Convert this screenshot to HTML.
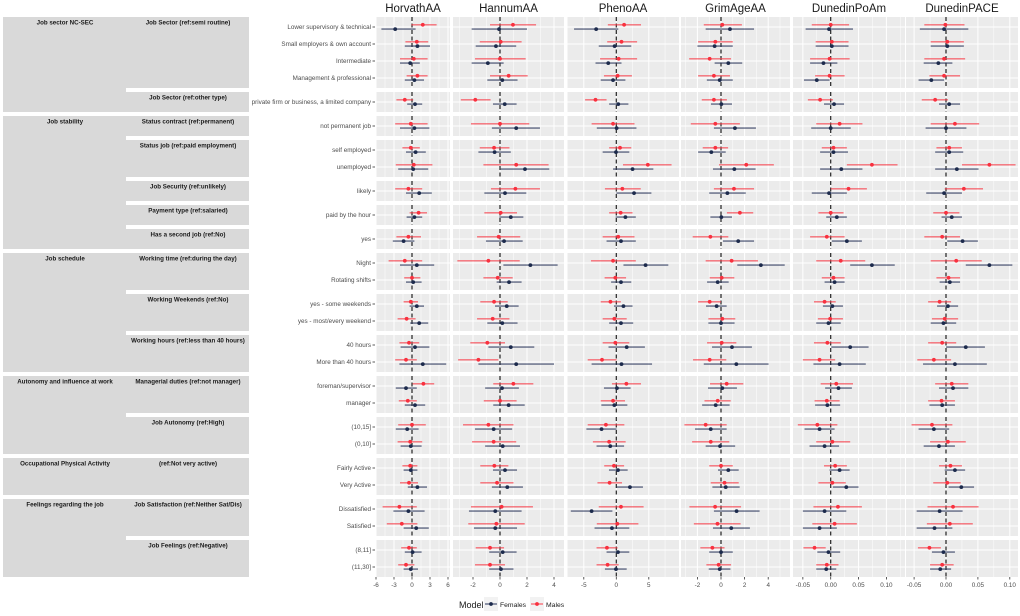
<!DOCTYPE html>
<html><head><meta charset="utf-8"><style>
html,body{margin:0;padding:0;background:#fff;}
svg{display:block;font-family:"Liberation Sans",Arial,sans-serif;}
</style></head><body>
<svg id="chart" width="1020" height="616" viewBox="0 0 1020 616"></svg>
<script>
const rowLabels=["Lower supervisory & technical","Small employers & own account","Intermediate","Management & professional","private firm or business, a limited company","not permanent job","self employed","unemployed","likely","paid by the hour","yes","Night","Rotating shifts","yes - some weekends","yes - most/every weekend","40 hours","More than 40 hours","foreman/supervisor","manager","(10,15]","(0,10]","Fairly Active","Very Active","Dissatisfied","Satisfied","(8,11]","(11,30]"];
const facetCounts=[4,1,1,2,1,1,1,2,2,2,2,2,2,2,2];
const facetLabels=["Job Sector (ref:semi routine)","Job Sector (ref:other type)","Status contract (ref:permanent)","Status job (ref:paid employment)","Job Security (ref:unlikely)","Payment type (ref:salaried)","Has a second job (ref:No)","Working time (ref:during the day)","Working Weekends (ref:No)","Working hours (ref:less than 40 hours)","Managerial duties (ref:not manager)","Job Autonomy (ref:High)","(ref:Not very active)","Job Satisfaction (ref:Neither Sat/Dis)","Job Feelings (ref:Negative)"];
const groupLabels=["Job sector NC-SEC","Job stability","Job schedule","Autonomy and influence at work","Occupational Physical Activity","Feelings regarding the job"];
const groupFacetSpan=[2,5,3,2,1,2];
const panelNames=["HorvathAA","HannumAA","PhenoAA","GrimAgeAA","DunedinPoAm","DunedinPACE"];
const tickVals=[[-6,-3,0,3,6],[-2,0,2,4],[-5,0,5],[-2,0,2,4],[-0.05,0,0.05,0.1],[-0.05,0,0.05,0.1]];
const tickText=[["-6","-3","0","3","6"],["-2","0","2","4"],["-5","0","5"],["-2","0","2","4"],["-0.05","0.00","0.05","0.10"],["-0.05","0.00","0.05","0.10"]];

const horvathMaleEst=[1.8,0.8,0.3,0.9,-1.2,-0.2,-0.2,0.3,-0.6,1.1,-0.6,-1.2,0,-0.2,-0.9,-0.5,-1,1.9,-0.7,0,-0.3,-0.3,-0.5,-2.1,-1.7,-0.5,-1];
const horvathMaleLo=[-0.1,-1.1,-2,-0.9,-2.6,-2.8,-1.6,-2.7,-2.8,-0.4,-2.6,-3.9,-1.3,-1.4,-2.4,-2.1,-2.8,0.1,-2.2,-2.3,-2.4,-1.6,-2,-4.9,-4.2,-1.8,-2.3];
const horvathMaleHi=[4.1,2.7,2.6,2.6,0.2,2.6,1.3,3.4,1.7,2.5,1.5,1.7,1.4,1,0.6,1.2,0.8,3.7,0.8,2.3,1.7,0.9,1,0.8,0.9,0.8,0.4];
const horvathFemEst=[-2.8,0.9,-0.3,0.4,0.5,0.4,0.6,0.2,1.2,0.4,-1.4,0.8,0.2,0.8,1.2,0.5,1.8,-1,0.5,-0.8,-0.2,-0.2,0.9,-0.6,0.7,0.1,-0.2];
const horvathFemLo=[-5.1,-1.2,-2,-1.2,-0.8,-2,-1,-2.3,-1,-0.9,-3.2,-2,-1,-0.4,-0.3,-1.9,-2.1,-2.7,-1.2,-2.7,-1.9,-1.4,-0.7,-3.1,-1.4,-1.2,-1.4];
const horvathFemHi=[0.6,3,1.3,2,1.7,2.9,2.3,2.7,3.3,1.7,0.4,3.7,1.6,2,2.7,2.9,5.7,0.8,2.2,1.1,1.6,0.9,2.5,2.1,2.8,1.6,1];

const hannumMaleEst=[0.96,0.05,0,0.64,-1.83,0,-0.44,1.2,1.14,0.05,-0.1,-0.86,-0.17,-0.44,-0.54,-0.94,-1.6,0.99,0,-0.86,-0.47,-0.42,-0.22,0.12,-0.27,-0.74,-0.74];
const hannumMaleLo=[-0.74,-1.5,-1.85,-0.74,-2.9,-2.15,-1.5,-1.23,-0.67,-1.16,-1.7,-3.16,-1.23,-1.46,-1.7,-2.2,-3.1,-0.5,-1.2,-2.74,-2.07,-1.46,-1.46,-2.15,-2.35,-1.8,-1.85];
const hannumMaleHi=[2.67,1.6,1.9,2.05,-0.7,2.17,0.7,3.6,2.96,1.26,1.5,1.46,0.94,0.57,0.7,0.37,-0.12,2.47,1.23,1.0,1.2,0.62,1.0,2.44,1.83,0.3,0.37];
const hannumFemEst=[-0.07,-0.3,-0.9,0.17,0.35,1.2,-0.4,1.85,0.37,0.8,0.3,2.25,0.67,0.5,0.17,0.8,1.2,0.15,0.64,-0.47,0.2,0.37,0.54,-0.35,-0.35,0.2,0.07];
const hannumFemLo=[-2.1,-1.8,-2.1,-0.94,-0.52,-0.6,-1.6,0.05,-1.16,-0.05,-1.04,0.25,-0.25,-0.37,-0.94,-0.86,-1.6,-1.1,-0.5,-1.85,-1.1,-0.52,-0.6,-2.3,-1.93,-0.8,-0.8];
const hannumFemHi=[2.0,1.2,0.27,1.3,1.23,2.96,0.8,3.65,1.95,1.73,1.68,4.27,1.6,1.38,1.3,2.54,4,1.4,1.83,0.9,1.48,1.26,1.7,1.6,1.26,1.23,1.0];

const phenoMaleEst=[1.2,0.8,0.36,0.2,-3.2,-0.5,0.57,4.85,0.93,0.67,0.3,-0.5,-0.15,-0.9,-0.3,-0.15,-2.2,1.55,-0.5,-1.6,-1.1,-0.36,-1.03,0.72,0.15,-1.44,-1.34];
const phenoMaleLo=[-1.3,-1.4,-2.5,-1.9,-4.8,-3.8,-1.1,1.03,-1.75,-1.1,-2.1,-3.9,-1.8,-2.4,-2.1,-2.1,-4.4,-0.67,-2.4,-4.4,-3.6,-1.86,-2.9,-2.7,-3,-3.04,-3.04];
const phenoMaleHi=[3.8,3.2,3.2,2.4,-1.5,2.8,2.3,8.5,3.76,2.5,2.8,3,1.5,0.7,1.6,2.0,0.05,3.8,1.34,1.24,1.44,1.2,0.88,4.2,3.4,0.2,0.36];
const phenoFemEst=[-3.1,-0.26,-1.24,-0.5,0.3,0.05,-0.05,2.5,2.73,1.4,0.72,4.5,0.72,1.1,0.72,1.6,0.8,0.1,-0.3,-2.27,-0.93,0.26,2.1,-3.8,-0.67,0.26,-0.05];
const phenoFemLo=[-6.5,-2.7,-3.2,-2.4,-1.1,-3,-2.1,-0.5,0,-0.1,-1.5,1.1,-0.8,-0.36,-1.1,-1.2,-3.8,-1.9,-2.3,-4.6,-3.04,-1.13,0.05,-7,-3.35,-1.5,-1.75];
const phenoFemHi=[0.3,2.3,0.8,1.4,1.86,3.1,2,5.7,5.4,3,3,8,2.3,2.5,2.6,4.4,5.5,2.2,1.7,0.05,1.2,1.75,4.1,-0.6,2,2,1.6];

const grimMaleEst=[0.11,-0.48,-0.96,-0.6,-0.6,-0.48,-0.48,2.14,1.1,1.6,-0.9,0.9,0.06,-0.96,0.11,0.06,-0.96,0.48,-0.28,-1.3,-0.87,0,0.3,-0.5,-0.3,-0.73,-0.2];
const grimMaleLo=[-1.46,-1.94,-2.7,-1.94,-1.63,-2.56,-1.55,-0.17,-0.6,0.5,-2.4,-1.3,-0.96,-1.94,-1.07,-1.18,-2.37,-0.93,-1.4,-3.1,-2.45,-1,-0.87,-2.68,-2.3,-1.75,-1.24];
const grimMaleHi=[1.77,1.0,0.85,0.76,0.5,1.6,0.6,4.48,2.8,2.73,0.62,3.13,1.13,0,1.21,1.3,0.45,1.89,0.82,0.48,0.7,1,1.5,1.7,1.66,0.3,0.85];
const grimFemEst=[0.76,-0.54,0.62,-0.11,0.03,1.18,-0.82,1.13,0.54,0.03,1.46,3.38,-0.28,-0.37,0,0.93,1.3,0.11,-0.45,-0.87,-0.08,0.62,0.4,1.32,0.87,0,-0.11];
const grimFemLo=[-1.3,-2,-0.54,-1.2,-0.85,-0.6,-1.94,-0.68,-1.0,-0.9,0.17,1.38,-1.18,-1.27,-1.07,-0.76,-1.46,-1.1,-1.6,-2.2,-1.3,-0.25,-0.73,-0.6,-0.68,-1,-1.04];
const grimFemHi=[2.8,1.0,1.8,1.0,0.93,2.96,0.4,2.93,2.1,0.93,2.8,5.4,0.65,0.48,1.15,2.62,4.03,1.35,0.73,0.48,1.2,1.5,1.58,3.27,2.45,1,0.8];

const poamMaleEst=[0,0.002,-0.002,-0.002,-0.019,0.016,0.005,0.074,0.032,0,-0.007,0.018,0.005,-0.011,-0.001,-0.006,-0.02,0.01,-0.007,-0.024,0.003,0.008,0.003,0.013,0.007,-0.029,-0.007];
const poamMaleLo=[-0.034,-0.027,-0.037,-0.028,-0.041,-0.026,-0.016,0.029,0,-0.022,-0.037,-0.026,-0.016,-0.03,-0.023,-0.03,-0.05,-0.018,-0.029,-0.059,-0.026,-0.012,-0.022,-0.031,-0.033,-0.049,-0.026];
const poamMaleHi=[0.033,0.032,0.034,0.025,0.004,0.057,0.029,0.12,0.065,0.023,0.025,0.062,0.025,0.009,0.022,0.018,0.008,0.04,0.016,0.012,0.035,0.029,0.027,0.056,0.047,-0.009,0.014];
const poamFemEst=[-0.003,0.002,-0.013,-0.025,0.006,0,0.005,0.019,-0.003,0.011,0.029,0.074,0.007,0.003,-0.004,0.035,0.016,0.014,-0.006,-0.02,-0.011,0.016,0.028,-0.011,-0.02,-0.004,-0.008];
const poamFemLo=[-0.045,-0.027,-0.037,-0.048,-0.012,-0.035,-0.019,-0.019,-0.034,-0.008,0.002,0.035,-0.011,-0.014,-0.026,0.001,-0.031,-0.01,-0.028,-0.047,-0.038,-0.002,0.004,-0.05,-0.05,-0.024,-0.026];
const poamFemHi=[0.04,0.032,0.012,-0.002,0.024,0.036,0.031,0.057,0.029,0.029,0.056,0.115,0.025,0.022,0.018,0.068,0.063,0.038,0.017,0.007,0.015,0.034,0.05,0.028,0.011,0.017,0.01];

const paceMaleEst=[-0.001,0.002,-0.003,-0.003,-0.017,0.014,0.005,0.068,0.028,0,-0.006,0.016,0.004,-0.01,-0.002,-0.006,-0.019,0.009,-0.007,-0.022,0.003,0.007,0.002,0.011,0.006,-0.026,-0.006];
const paceMaleLo=[-0.034,-0.024,-0.034,-0.026,-0.038,-0.024,-0.015,0.025,-0.002,-0.02,-0.034,-0.024,-0.015,-0.028,-0.022,-0.028,-0.045,-0.017,-0.028,-0.054,-0.025,-0.011,-0.02,-0.029,-0.03,-0.044,-0.025];
const paceMaleHi=[0.029,0.028,0.03,0.022,0.003,0.052,0.025,0.109,0.058,0.021,0.022,0.056,0.022,0.008,0.019,0.016,0.008,0.035,0.014,0.01,0.031,0.025,0.023,0.051,0.042,-0.008,0.012];
const paceFemEst=[-0.003,0.002,-0.012,-0.023,0.005,0,0.005,0.017,-0.003,0.009,0.026,0.068,0.006,0.003,-0.004,0.031,0.014,0.011,-0.006,-0.019,-0.011,0.014,0.024,-0.01,-0.018,-0.004,-0.009];
const paceFemLo=[-0.041,-0.024,-0.035,-0.043,-0.011,-0.032,-0.017,-0.017,-0.031,-0.007,0.002,0.031,-0.01,-0.014,-0.024,0,-0.036,-0.011,-0.026,-0.043,-0.035,-0.002,0.004,-0.046,-0.046,-0.022,-0.025];
const paceFemHi=[0.035,0.028,0.01,-0.003,0.022,0.032,0.027,0.051,0.025,0.025,0.05,0.104,0.022,0.019,0.016,0.061,0.064,0.035,0.014,0.005,0.014,0.03,0.044,0.026,0.01,0.014,0.008];

const NS="http://www.w3.org/2000/svg";
const svg=document.getElementById('chart');
function mk(tag,attrs,parent){const e=document.createElementNS(NS,tag);for(const k in attrs)e.setAttribute(k,attrs[k]);(parent||svg).appendChild(e);return e;}

const panelGeom=[[376,450,412,6],[453,564,500,13.5],[567,679,616.3,6.5],[681,790,721,11.8],[793,905,830.7,557],[906,1018,946,638]];
const series=[
 [horvathMaleEst,horvathMaleLo,horvathMaleHi,horvathFemEst,horvathFemLo,horvathFemHi],
 [hannumMaleEst,hannumMaleLo,hannumMaleHi,hannumFemEst,hannumFemLo,hannumFemHi],
 [phenoMaleEst,phenoMaleLo,phenoMaleHi,phenoFemEst,phenoFemLo,phenoFemHi],
 [grimMaleEst,grimMaleLo,grimMaleHi,grimFemEst,grimFemLo,grimFemHi],
 [poamMaleEst,poamMaleLo,poamMaleHi,poamFemEst,poamFemLo,poamFemHi],
 [paceMaleEst,paceMaleLo,paceMaleHi,paceFemEst,paceFemLo,paceFemHi]];
function xScale(p,v){const g=panelGeom[p];return g[2]+v*g[3];}

const facetTop=[],facetH=[],rowY=[];
let y=17;
facetCounts.forEach((n,i)=>{facetTop.push(y);facetH.push(3+17*n);for(let k=0;k<n;k++)rowY.push(y+10+17*k);y+=3+17*n+4;});
const plotBottom=facetTop[facetTop.length-1]+facetH[facetH.length-1];

let fi=0;
groupLabels.forEach((g,gi)=>{
  const f0=fi,f1=fi+groupFacetSpan[gi]-1;
  const top=facetTop[f0],bot=facetTop[f1]+facetH[f1];
  const r=mk('rect',{x:3,y:top,width:246,height:bot-top,fill:'#d9d9d9'});
  
  
  const t=mk('text',{x:65,y:top+7.5,'text-anchor':'middle','font-size':'6.2','font-weight':'bold',fill:'#1a1a1a'});
  t.textContent=g;
  
  
  for(let f=f0;f<=f1;f++){
    if(f>f0){const w=mk('rect',{x:126,y:facetTop[f]-4,width:124,height:4,fill:'#fff'});
      
      }
    const ft=mk('text',{x:188,y:facetTop[f]+7.5,'text-anchor':'middle','font-size':'6.2','font-weight':'bold',fill:'#1a1a1a'});
    ft.textContent=facetLabels[f];
    
    
  }
  fi=f1+1;
});

rowLabels.forEach((l,i)=>{
  const t=mk('text',{x:371,y:rowY[i]+2.2,'text-anchor':'end','font-size':'6.3',fill:'#4d4d4d'});
  t.textContent=l;
  
  
  const tk=mk('line',{x1:372.5,x2:375,y1:rowY[i],y2:rowY[i],stroke:'#333','stroke-width':0.8});
  
  
});

const RED='#f8313f',RED_L='rgba(248,60,70,0.72)',NAVY='#1c2a4c',NAVY_L='rgba(40,52,90,0.72)';
panelNames.forEach((name,p)=>{
  const g=panelGeom[p];
  const ttl=mk('text',{x:(g[0]+g[1])/2,y:12,'text-anchor':'middle','font-size':'11.5',fill:'#1a1a1a'});
  ttl.textContent=name;
  
  
  const tv=tickVals[p];
  const step=tv[1]-tv[0];
  facetCounts.forEach((n,f)=>{
    const bg=mk('rect',{x:g[0],y:facetTop[f],width:g[1]-g[0],height:facetH[f],fill:'#ebebeb'});
    
    
    for(let v=tv[0]-step*2;v<=tv[tv.length-1]+step*2+1e-9;v+=step/2){
      const x=xScale(p,v); if(x<g[0]||x>g[1])continue;
      const major=Math.abs(Math.round((v-tv[0])/step)*step-(v-tv[0]))<1e-9;
      mk('line',{x1:x,x2:x,y1:facetTop[f],y2:facetTop[f]+facetH[f],stroke:'#fff','stroke-width':major?1:0.5});
    }
  });
  rowY.forEach(ry=>mk('line',{x1:g[0],x2:g[1],y1:ry,y2:ry,stroke:'#fff','stroke-width':1}));
  facetCounts.forEach((n,f)=>{
    const z=mk('line',{x1:g[2],x2:g[2],y1:facetTop[f],y2:facetTop[f]+facetH[f],stroke:'#222','stroke-width':1.2,'stroke-dasharray':'4,2.5'});
    
    
  });
  const s=series[p];
  rowY.forEach((ry,i)=>{
    const clip=v=>Math.max(g[0],Math.min(g[1],v));
    const fl=mk('line',{x1:clip(xScale(p,s[4][i])),x2:clip(xScale(p,s[5][i])),y1:ry+2.1,y2:ry+2.1,stroke:NAVY_L,'stroke-width':1.4});
    
    
    const fp=mk('circle',{cx:xScale(p,s[3][i]),cy:ry+2.1,r:1.9,fill:NAVY});
    
    
    const ml=mk('line',{x1:clip(xScale(p,s[1][i])),x2:clip(xScale(p,s[2][i])),y1:ry-2.2,y2:ry-2.2,stroke:RED_L,'stroke-width':1.4});
    
    
    const mp=mk('circle',{cx:xScale(p,s[0][i]),cy:ry-2.2,r:1.9,fill:RED});
    
    
  });
  tv.forEach((v,k)=>{
    const x=xScale(p,v);
    const tk=mk('line',{x1:x,x2:x,y1:plotBottom,y2:plotBottom+2.5,stroke:'#333','stroke-width':0.8});
    
    
    const tl=mk('text',{x:x,y:plotBottom+10,'text-anchor':'middle','font-size':'6.3',fill:'#4d4d4d'});
    tl.textContent=tickText[p][k];
    
    
  });
});

const lt=mk('text',{x:459,y:608,'font-size':'9',fill:'#1a1a1a'});
lt.textContent='Model';


[['Females',NAVY,NAVY_L,484],['Males',RED,RED_L,530]].forEach(([lab,c,cl,x])=>{
  const k=mk('rect',{x:x,y:597,width:14,height:14,fill:'#f2f2f2'});
  
  
  mk('line',{x1:x+1,x2:x+13,y1:604,y2:604,stroke:cl,'stroke-width':1.4});
  mk('circle',{cx:x+7,cy:604,r:1.9,fill:c});
  const t=mk('text',{x:x+16,y:607,'font-size':'6.8',fill:'#1a1a1a'});
  t.textContent=lab;
  
  
});
</script>
</body></html>
